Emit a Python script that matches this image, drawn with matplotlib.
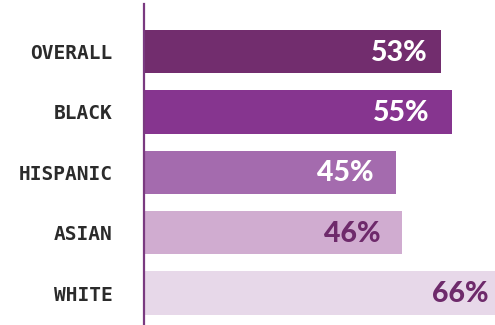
import matplotlib
matplotlib.use("Agg")
import matplotlib.pyplot as plt

# === DATA ===
groups = ["OVERALL", "BLACK", "HISPANIC", "ASIAN", "WHITE"]
pct = [53, 55, 45, 46, 66]

# === STYLE ===
bar_colors = ["#722d6e", "#86358f", "#a46bae", "#d0acd0", "#e7d8e9"]
text_colors = ["white", "white", "white", "#6e2a6b", "#6e2a6b"]
label_gap = [2.3, 4.1, 4.0, 3.8, 4.5]  # inset of each value label from its bar end
axis_color = "#7a3a80"

W, H = 495, 325
fig = plt.figure(figsize=(W / 100, H / 100), dpi=100)
ax = fig.add_axes([144 / W, 0, (W - 144) / W, 321 / H])

y = list(range(len(groups)))
ax.barh(y, pct, height=0.72, color=bar_colors, zorder=1)

for i, v in enumerate(pct):
    ax.text(v - label_gap[i], i + 0.02, f"{v}%", ha="right", va="center",
            color=text_colors[i], fontsize=20.5, fontfamily="Lato",
            fontweight=900, zorder=3)

ax.set_xlim(0, 62.7)
ax.set_ylim(4.53, -0.787)

ax.set_yticks(y)
ax.set_yticklabels(groups, fontfamily="DejaVu Sans Mono", fontweight="bold",
                   fontsize=14, color="#2b2b2b")
ax.tick_params(axis="y", length=0, pad=22.5)
ax.set_xticks([])

for side in ["top", "right", "bottom"]:
    ax.spines[side].set_visible(False)
ax.spines["left"].set_color(axis_color)
ax.spines["left"].set_linewidth(1.6)
ax.spines["left"].set_zorder(4)

fig.savefig("out.png", dpi=100)
plt.close(fig)
